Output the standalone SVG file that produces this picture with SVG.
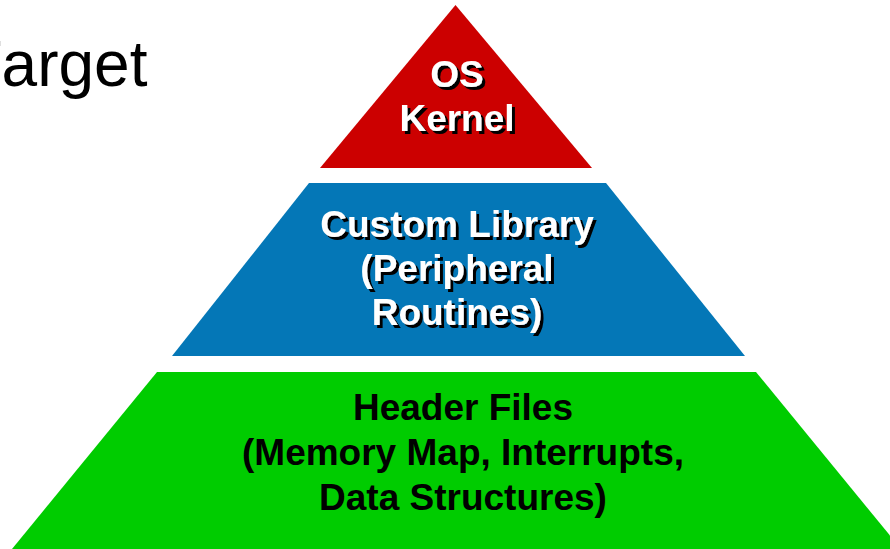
<svg xmlns="http://www.w3.org/2000/svg" width="890" height="549" viewBox="0 0 890 549">
  <style>
    .title { font-family: "Liberation Sans", Arial, sans-serif; font-size: 64px; fill: #000; font-kerning: none; }
    .lbl { font-family: "Liberation Sans", Arial, sans-serif; font-size: 37px; font-weight: bold; text-anchor: middle; }
    .lt { fill: #fff; filter: url(#drop); }
    .dk { fill: #000; }
  </style>
  <defs>
    <!-- hard black drop shadow under the white labels -->
    <filter id="drop" x="-10%" y="-20%" width="120%" height="150%">
      <feOffset in="SourceAlpha" dx="3" dy="3" result="off"/>
      <feMerge>
        <feMergeNode in="off"/>
        <feMergeNode in="SourceGraphic"/>
      </feMerge>
    </filter>
  </defs>
  <rect width="890" height="549" fill="#fff"/>
  <text class="title" x="-37.5" y="86">Target</text>

  <!-- top tier -->
  <g id="os-kernel">
    <polygon points="455.5,5 592,168 320,168" fill="#cc0000"/>
    <g class="lbl lt">
      <text x="457" y="87">OS</text>
      <text x="457" y="131">Kernel</text>
    </g>
  </g>

  <!-- middle tier -->
  <g id="custom-library">
    <polygon points="309,183 606,183 745,356 172,356" fill="#0477b7"/>
    <g class="lbl lt">
      <text x="457" y="237">Custom Library</text>
      <text x="457" y="281">(Peripheral</text>
      <text x="457" y="325">Routines)</text>
    </g>
  </g>

  <!-- base tier -->
  <g id="header-files">
    <polygon points="157,372 756,372 901,549 12,549" fill="#00cc00"/>
    <g class="lbl dk">
      <text x="463" y="420">Header Files</text>
      <text x="463" y="465">(Memory Map, Interrupts,</text>
      <text x="463" y="510">Data Structures)</text>
    </g>
  </g>

  <g id="connectors"/>
</svg>
